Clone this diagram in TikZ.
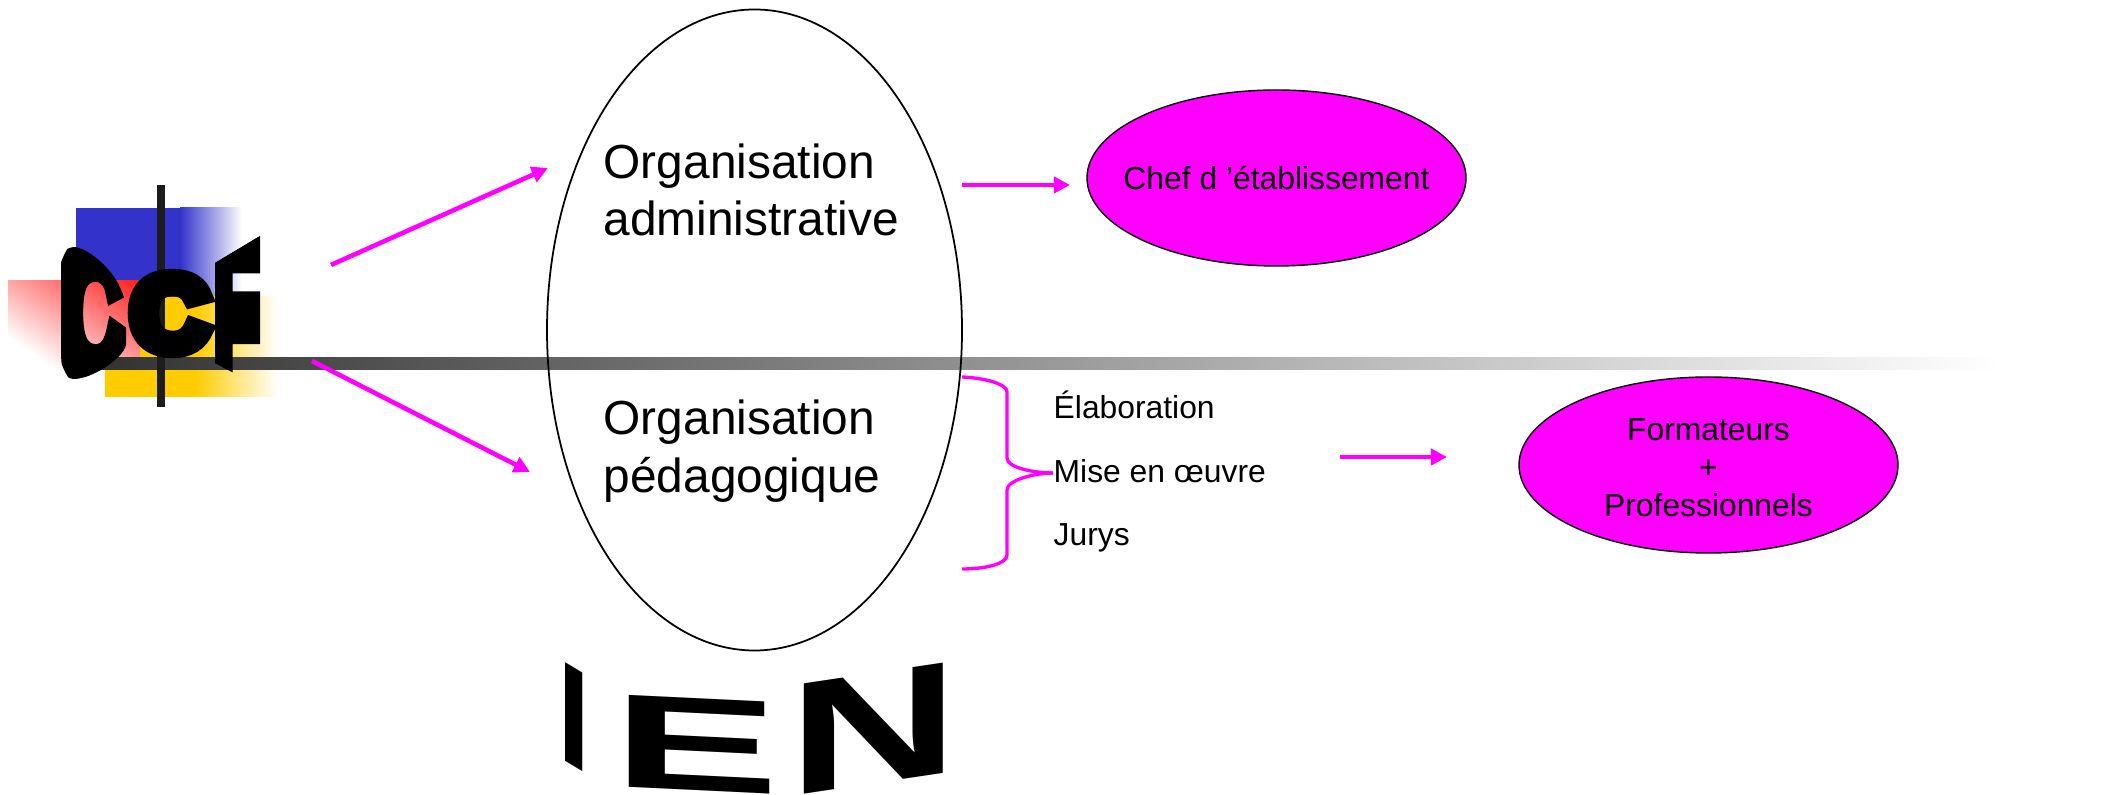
\documentclass[tikz,border=0pt]{standalone}
\usepackage{fontspec}
\setmainfont{Liberation Sans}
\newfontfamily\heavy[FakeBold=13]{Liberation Sans Bold}
\newfontfamily\heavier[FakeBold=15]{Liberation Sans Bold}
\newfontfamily\heavyb{Liberation Sans Bold}
\usetikzlibrary{shapes.geometric,arrows.meta}
\definecolor{mag}{HTML}{FF00FF}
\definecolor{bluel}{HTML}{3333CC}
\definecolor{yel}{HTML}{FFCC00}
\tikzset{
  arrowline/.style={draw=mag,line width=1.3pt,-{Triangle[length=4.6pt,width=4.6pt]}},
  bracel/.style={draw=mag,line width=0.95pt},
  bigtext/.style={font=\fontsize{13.6}{16.4}\selectfont,align=left,anchor=west,inner sep=0pt},
  smalltext/.style={font=\fontsize{9.05}{10.8}\selectfont,anchor=base west,inner sep=0pt},
  pinkoval/.style={ellipse,draw=black,fill=mag,line width=0.4pt,minimum width=379*0.01cm,minimum height=176*0.01cm,inner xsep=-1cm,inner ysep=0pt,align=center,font=\fontsize{9.05}{10.8}\selectfont},
  bigoval/.style={ellipse,draw=black,line width=0.5pt,minimum width=415*0.01cm,minimum height=641*0.01cm,inner sep=0pt},
  logoC/.style={font=\heavy\fontsize{40}{40}\selectfont,inner sep=0pt,transform shape},
  logoCC/.style={font=\heavier\fontsize{40}{40}\selectfont,inner sep=0pt,transform shape},
  wordL/.style={font=\heavyb\fontsize{40}{40}\selectfont,inner sep=0pt,transform shape}
}
\begin{document}
\begin{tikzpicture}[x=0.01cm,y=-0.01cm]
\useasboundingbox (0,0) rectangle (2103,795);
% logo squares
\fill[bluel] (76,208) rectangle (180,297);
\shade[left color=bluel,right color=white] (180,208) rectangle (242,297);
\fill[yel] (105,297) rectangle (195,397);
\shade[left color=yel,right color=white] (195,297) rectangle (278,397);
\begin{scope}
\clip (8,281) rectangle (140,370);
\shade[bottom color=white,top color=red,shading angle=-34] (8,250) rectangle (170,370);
\end{scope}
% bar
\shade[left color=black!80,middle color=black!28,right color=white] (100,358) rectangle (2000,370);
\fill[black!89] (157,185) rectangle (165,407);
% main oval
\node[bigoval] (main) at (754.5,330) {};
\node[bigtext] (orgA) at (603,190) {Organisation\\administrative};
\node[bigtext] (orgP) at (603,451) {Organisation\\pédagogique};
% CCF
\begin{scope}
\clip (61,265) .. controls (61,250) and (68,247) .. (76,247) .. controls (95,252) and (125,280) .. (126,310) -- (126,345) .. controls (122,360) and (90,379) .. (74,379) .. controls (62,379) and (61,365) .. (61,350) -- cycle;
\node[logoCC,xscale=.70,yscale=1.34] (c1) at (93,313) {C};
\end{scope}
\node[logoCC,xscale=.76,yscale=.74] (c2) at (170,313.5) {C};
\begin{scope}
\clip (215,263) -- (260,236) -- (260,378) -- (243,378) -- (215,363) -- cycle;
\node[logoC,xscale=.60,yscale=1.55,anchor=west] (f) at (209,310) {F};
\end{scope}
% IEN
\node[wordL,xscale=.85,yscale=1.02,yslant=-.50] (i) at (574.5,717) {I};
\node[wordL,xscale=1.78,yscale=.95,yslant=-.09] (e) at (696,745) {E};
\node[wordL,xscale=1.68,yscale=1.14,yslant=.22] (n) at (874,729) {N};
% ovals
\node[pinkoval] (chef) at (1276.5,178) {Chef d ’établissement};
\node[pinkoval] (form) at (1708.5,465) {\rule{0pt}{7.6pt}Formateurs\\+\\Professionnels};
% arrows
\coordinate (a1s) at (331,265); \coordinate (a1e) at (548,168);
\coordinate (a2s) at (312,361); \coordinate (a2e) at (530,472);
\coordinate (a3s) at (962,185);  \coordinate (a3e) at (1070,185);
\coordinate (a4s) at (1340,457); \coordinate (a4e) at (1447,457);
\draw[arrowline] (a1s) -- (a1e);
\draw[arrowline] (a2s) -- (a2e);
\draw[arrowline] (a3s) -- (a3e);
\draw[arrowline] (a4s) -- (a4e);
% brace and list
\node[smalltext] (t1) at (1053,419) {Élaboration};
\node[smalltext] (t2) at (1053,483) {Mise en œuvre};
\node[smalltext] (t3) at (1053,546) {Jurys};
\coordinate (b1) at (962,377); \coordinate (b2) at (962,569);
\coordinate (bm) at (1053,473);
\draw[bracel] (b1) .. controls (985,378) and (1007,384) .. (1007,392) -- (1007,458)
  .. controls (1007,468) and (1035,473) .. (bm);
\draw[bracel] (bm) .. controls (1035,473) and (1007,480) .. (1007,490) -- (1007,555)
  .. controls (1007,564) and (985,569) .. (b2);
\end{tikzpicture}
\end{document}
